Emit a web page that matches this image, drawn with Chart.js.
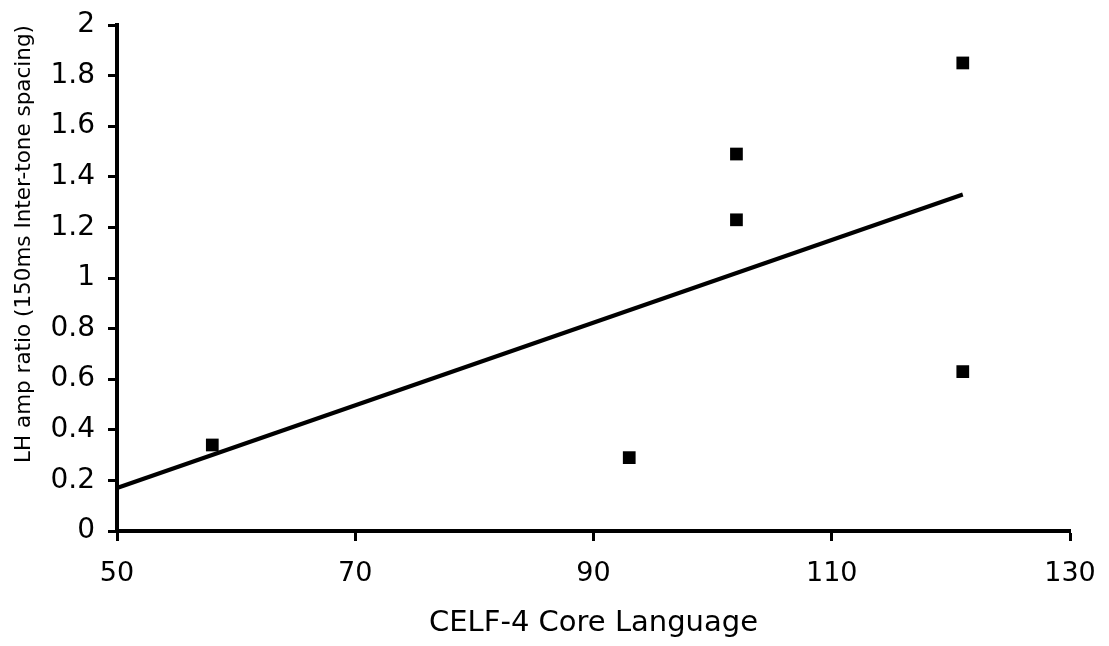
<!DOCTYPE html>
<html>
<head>
<meta charset="utf-8">
<script src="https://cdn.jsdelivr.net/npm/chart.js@4"></script>
<style>
  html, body { margin: 0; padding: 0; background: #fff; }
  #wrap { width: 1109px; height: 646px; }
</style>
</head>
<body>
<div id="wrap"><canvas id="chartCelf" width="1109" height="646"></canvas></div>
<script>
// data
const celfScores = [58, 93, 102, 102, 121, 121];
const lhAmpRatio = [0.34, 0.29, 1.23, 1.49, 1.85, 0.63];
// linear trend line end points
const trendX = [50, 121];
const trendY = [0.17, 1.33];
const xTicks = [50, 70, 90, 110, 130];
const yTicks = [0, 0.2, 0.4, 0.6, 0.8, 1, 1.2, 1.4, 1.6, 1.8, 2];

const font = 'Verdana, "DejaVu Sans", sans-serif';

document.addEventListener('DOMContentLoaded', () => {
  const canvas = document.getElementById('chartCelf');

  new Chart(canvas, {
    type: 'scatter',
    data: {
      datasets: [
        {
          label: 'LH amp ratio',
          data: celfScores.map((x, i) => ({ x: x, y: lhAmpRatio[i] })),
          pointStyle: 'rect',
          pointRadius: 9,
          backgroundColor: '#000',
          borderColor: '#000',
          borderWidth: 0,
          order: 1
        },
        {
          type: 'line',
          label: 'Linear trend',
          data: trendX.map((x, i) => ({ x: x, y: trendY[i] })),
          borderColor: '#000',
          borderWidth: 4,
          pointRadius: 0,
          fill: false,
          order: 2
        }
      ]
    },
    options: {
      responsive: false,
      animation: false,
      layout: { padding: { top: 25, right: 39, left: 0, bottom: 0 } },
      plugins: {
        legend: { display: false },
        tooltip: { enabled: false }
      },
      scales: {
        x: {
          type: 'linear',
          min: 50,
          max: 130,
          afterBuildTicks: (axis) => { axis.ticks = xTicks.map(v => ({ value: v })); },
          afterFit: (axis) => {
            axis.height = 115;
            axis.paddingLeft = 0;
            axis.paddingRight = 0;
          },
          border: { display: true, color: '#000', width: 4 },
          grid: { drawOnChartArea: false, color: '#000', tickLength: 10, tickWidth: 3 },
          ticks: { color: '#000', padding: 17, font: { family: font, size: 27 }, maxRotation: 0 },
          title: {
            display: true,
            text: 'CELF-4 Core Language',
            color: '#000',
            font: { family: font, size: 29 },
            padding: { top: 0, bottom: 5 }
          }
        },
        y: {
          type: 'linear',
          min: 0,
          max: 2,
          afterBuildTicks: (axis) => { axis.ticks = yTicks.map(v => ({ value: v })); },
          afterFit: (axis) => {
            axis.width = 117;
            axis.paddingTop = 0;
            axis.paddingBottom = 0;
          },
          border: { display: true, color: '#000', width: 4 },
          grid: { drawOnChartArea: false, color: '#000', tickLength: 9, tickWidth: 3 },
          ticks: {
            color: '#000',
            padding: 13,
            font: { family: font, size: 28 },
            callback: (v) => String(Math.round(v * 10) / 10)
          },
          title: {
            display: true,
            align: 'end',
            text: 'LH amp ratio (150ms Inter-tone spacing)',
            color: '#000',
            font: { family: font, size: 21.5 },
            padding: { top: 12, bottom: 0 }
          }
        }
      }
    }
  });
});
</script>
</body>
</html>
